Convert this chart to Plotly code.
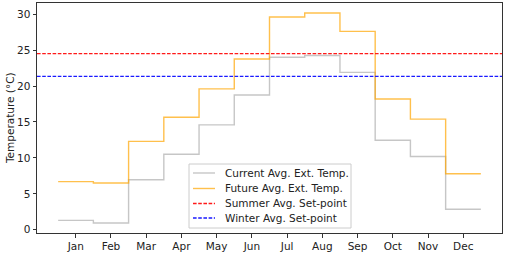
import plotly.graph_objects as go

months = ["Jan", "Feb", "Mar", "Apr", "May", "Jun", "Jul", "Aug", "Sep", "Oct", "Nov", "Dec"]
current_temp = [1.3, 0.95, 6.95, 10.5, 14.6, 18.75, 24.0, 24.25, 21.9, 12.45, 10.2, 2.85]
future_temp = [6.7, 6.5, 12.3, 15.65, 19.6, 23.75, 29.6, 30.15, 27.6, 18.2, 15.4, 7.8]
summer_setpoint = 24.5
winter_setpoint = 21.35
series_names = ["Current Avg. Ext. Temp.", "Future Avg. Ext. Temp.",
                "Summer Avg. Set-point", "Winter Avg. Set-point"]

month_pos = list(range(1, len(months) + 1))
edges = [m - 0.5 for m in month_pos] + [month_pos[-1] + 0.5]

GRAY = "rgba(128,128,128,0.45)"
ORANGE = "rgba(255,165,0,0.7)"
DASH = "3.6px,1.6px"
styles = [dict(color=GRAY, width=1.4), dict(color=ORANGE, width=1.4),
          dict(color="#ff1a1a", width=1.3, dash=DASH), dict(color="#1a1aff", width=1.3, dash=DASH)]

fig = go.Figure()
fig.add_trace(go.Scatter(x=edges, y=current_temp + [current_temp[-1]], mode="lines",
                         line=dict(**styles[0], shape="hv"), name=series_names[0]))
fig.add_trace(go.Scatter(x=edges, y=future_temp + [future_temp[-1]], mode="lines",
                         line=dict(**styles[1], shape="hv"), name=series_names[1]))
fig.add_trace(go.Scatter(x=[-0.1, 13.1], y=[summer_setpoint] * 2, mode="lines",
                         line=styles[2], name=series_names[2]))
fig.add_trace(go.Scatter(x=[-0.1, 13.1], y=[winter_setpoint] * 2, mode="lines",
                         line=styles[3], name=series_names[3]))

axis_common = dict(showline=True, linecolor="#333", linewidth=1, mirror=True,
                   ticks="outside", ticklen=3.5, tickcolor="#333", showgrid=False,
                   zeroline=False, automargin=False,
                   tickfont=dict(family="DejaVu Sans", size=10.5, color="#222"))
fig.update_xaxes(range=[-0.1, 13.1], tickvals=month_pos, ticktext=months, **axis_common)
fig.update_yaxes(range=[-0.45, 31.55], tickvals=[0, 5, 10, 15, 20, 25, 30], **axis_common)

# y-axis title
fig.add_annotation(text="Temperature (°C)", xref="paper", yref="paper", x=-0.058, y=0.5,
                   textangle=-90, showarrow=False, xanchor="center", yanchor="middle",
                   font=dict(family="DejaVu Sans", size=10.5, color="#222"))

# legend (matplotlib style box)
fig.add_shape(type="rect", xref="paper", yref="paper", x0=0.3269, x1=0.6753, y0=0.0217, y1=0.3,
              fillcolor="rgba(255,255,255,0.8)", line=dict(color="#cccccc", width=1), layer="above")
legend_y = [0.2609, 0.1935, 0.1283, 0.0652]
for name, st, ly in zip(series_names, styles, legend_y):
    fig.add_shape(type="line", xref="paper", yref="paper", x0=0.3355, x1=0.3828, y0=ly, y1=ly,
                  line=st, layer="above")
    fig.add_annotation(text=name, xref="paper", yref="paper", x=0.4, y=ly, showarrow=False,
                       xanchor="left", yanchor="middle",
                       font=dict(family="DejaVu Sans", size=10.5, color="#222"))

fig.update_layout(
    width=505, height=253,
    margin=dict(l=37, r=3, t=3, b=20),
    plot_bgcolor="white", paper_bgcolor="white",
    showlegend=False,
)
fig.write_html("out.html", config={"displayModeBar": False},
               post_script="document.body.style.margin='0';document.body.style.overflow='hidden';")
